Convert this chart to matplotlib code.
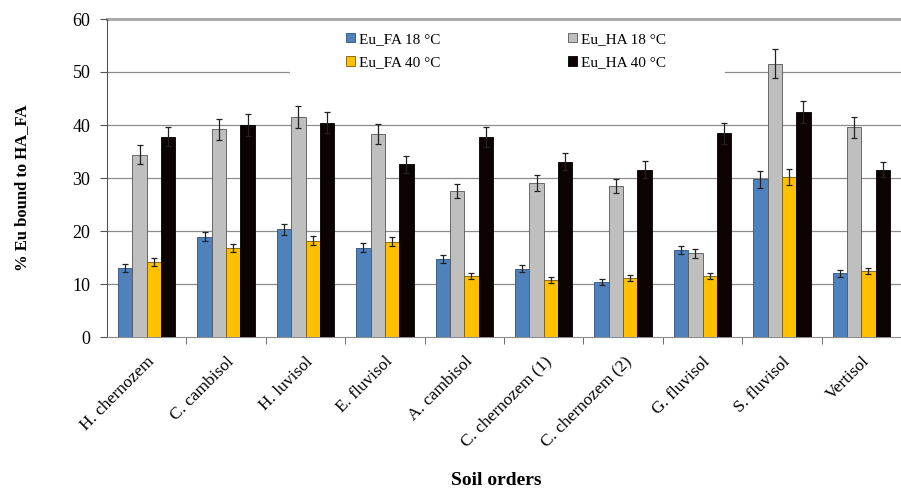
import numpy as np
import matplotlib
matplotlib.use('Agg')
import matplotlib.pyplot as plt
from matplotlib.patches import Rectangle

plt.rcParams['font.family'] = ['Liberation Serif', 'DejaVu Serif']

soils = ['H. chernozem', 'C. cambisol', 'H. luvisol', 'E. fluvisol', 'A. cambisol',
         'C. chernozem (1)', 'C. chernozem (2)', 'G. fluvisol', 'S. fluvisol', 'Vertisol']

fa18 = [13.0, 18.9, 20.3, 16.8, 14.8, 12.9, 10.4, 16.4, 29.8, 12.0]
ha18 = [34.4, 39.2, 41.5, 38.3, 27.5, 29.0, 28.5, 15.8, 51.6, 39.6]
fa40 = [14.2, 16.8, 18.2, 18.0, 11.5, 10.7, 11.2, 11.5, 30.2, 12.5]
ha40 = [37.8, 40.0, 40.4, 32.6, 37.7, 33.1, 31.6, 38.4, 42.5, 31.6]

fa18_err = [0.7, 0.85, 1.0, 0.85, 0.75, 0.65, 0.5, 0.8, 1.6, 0.6]
ha18_err = [1.8, 2.0, 2.0, 1.9, 1.3, 1.5, 1.4, 0.8, 2.7, 2.0]
fa40_err = [0.8, 0.8, 0.9, 0.9, 0.6, 0.55, 0.55, 0.6, 1.5, 0.6]
ha40_err = [1.8, 2.0, 2.0, 1.6, 1.9, 1.6, 1.6, 2.0, 2.1, 1.5]

series = [
    ('Eu_FA 18 °C', fa18, fa18_err, '#4F81BD', '#2E4F7A'),
    ('Eu_HA 18 °C', ha18, ha18_err, '#BFBFBF', '#555555'),
    ('Eu_FA 40 °C', fa40, fa40_err, '#FFC000', '#7A5C00'),
    ('Eu_HA 40 °C', ha40, ha40_err, '#0D0202', '#000000'),
]

fig = plt.figure(figsize=(9.01, 4.90), dpi=100)
ax = fig.add_axes([107 / 901, 1 - 337 / 490, 794 / 901, 318 / 490])

x = np.arange(len(soils))
w = 0.181
handles = {}
for i, (name, vals, errs, col, ec) in enumerate(series):
    b = ax.bar(x + (i - 1.5) * w, vals, w, color=col, edgecolor=ec, linewidth=0.6,
               yerr=errs, capsize=2.5, error_kw=dict(ecolor='#222222', elinewidth=0.9, capthick=0.9),
               zorder=3, label=name)
    handles[name] = b

ax.set_ylim(0, 60)
ax.set_yticks(np.arange(0, 61, 10))
ax.set_xlim(-0.5, -0.5 + 794 / 80.5)
ax.set_xticks(x)
ax.set_xticklabels(soils, rotation=45, ha='right', rotation_mode='anchor', fontsize=12.5)
ax.set_xticks(np.arange(len(soils)) + 0.5, minor=True)
ax.tick_params(axis='x', which='major', length=0, pad=12)
ax.tick_params(axis='x', which='minor', length=5, color='#555555')
ax.tick_params(axis='y', length=5, color='#555555', labelsize=13, pad=7)

for y in range(10, 60, 10):
    ax.axhline(y, color='#8C8C8C', linewidth=0.9, zorder=1)
ax.axhline(60, color='#ABABAB', linewidth=2.2, zorder=1, clip_on=False)

for s in ['top', 'right']:
    ax.spines[s].set_visible(False)
ax.spines['left'].set_color('#555555')
ax.spines['bottom'].set_color('#8C8C8C')

# white box behind the legend hides part of the 50 gridline
ax.add_patch(Rectangle(((290 - 107) / 794, (337 - 76) / 318), (725 - 290) / 794, 52 / 318,
                       transform=ax.transAxes, facecolor='white', edgecolor='none', zorder=2))

order = ['Eu_FA 18 °C', 'Eu_FA 40 °C', 'Eu_HA 18 °C', 'Eu_HA 40 °C']
leg = ax.legend([handles[n] for n in order], order, ncol=2, frameon=False, fontsize=11,
                loc='upper left', bbox_to_anchor=((338 - 107) / 794, (337 - 25) / 318),
                handlelength=0.6, handleheight=0.6, handletextpad=0.3, columnspacing=8.3,
                labelspacing=0.65, borderpad=0)

ax.set_ylabel('% Eu bound to HA_FA', fontsize=12, fontweight='bold', labelpad=0)
ax.yaxis.set_label_coords((30 - 107) / 794, 0.47)
fig.text(496 / 901, 1 - 480 / 490, 'Soil orders', fontsize=14, fontweight='bold',
         ha='center', va='center')

fig.savefig('out.png', dpi=100)
